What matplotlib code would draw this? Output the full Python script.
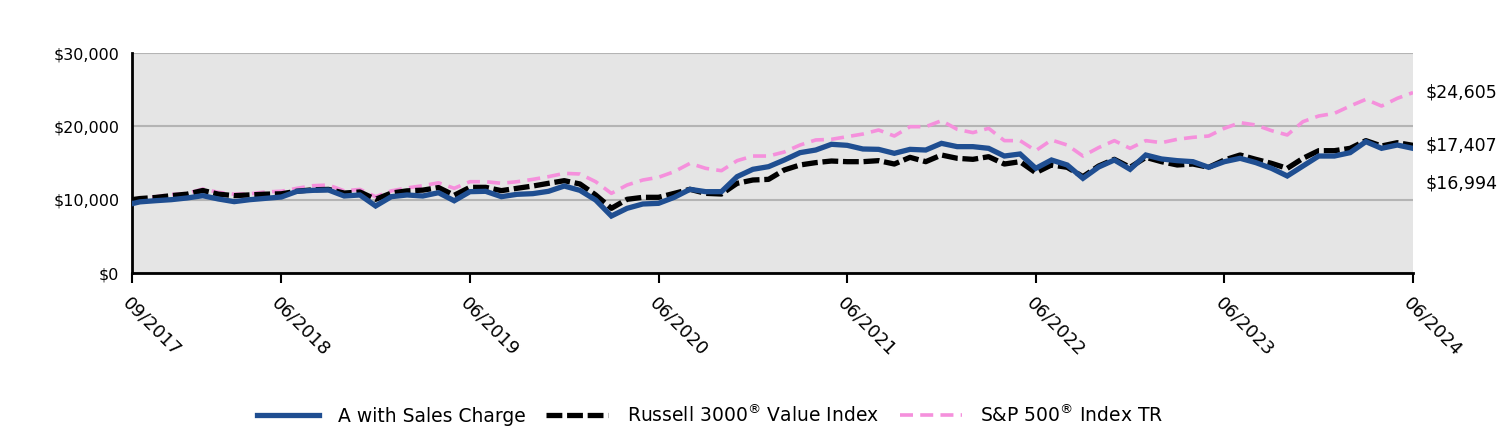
import matplotlib
matplotlib.use("Agg")
import matplotlib.pyplot as plt
from matplotlib.ticker import FuncFormatter

# growth of $10,000: first point is inception, then month-ends 09/2017 .. 06/2024
fund = [9450, 9700, 9860, 10000, 10230, 10540, 10090, 9730, 10000, 10180, 10360,
        11140, 11270, 11320, 10500, 10640, 9140, 10410, 10640, 10500, 10950, 9850,
        11090, 11140, 10410, 10730, 10820, 11140, 11860, 11270, 9950, 7770, 8820,
        9410, 9500, 10320, 11410, 11090, 11090, 13140, 14140, 14500, 15410, 16410,
        16770, 17550, 17410, 16910, 16860, 16320, 16860, 16770, 17680, 17230, 17230,
        17000, 15950, 16230, 14270, 15410, 14730, 12910, 14450, 15410, 14140, 16090,
        15550, 15320, 15180, 14410, 15180, 15640, 15050, 14270, 13230, 14590, 15950,
        15950, 16410, 17910, 17000, 17450, 16994]
russell = [10000, 10150, 10300, 10550, 10750, 11250, 10750, 10550, 10650, 10750, 10800,
           11150, 11350, 11400, 10900, 11050, 10050, 10900, 11200, 11300, 11650, 10600,
           11680, 11680, 11230, 11550, 11860, 12230, 12590, 12140, 10640, 8820, 10050,
           10320, 10320, 10860, 11410, 10860, 10770, 12230, 12680, 12770, 14050, 14730,
           15050, 15270, 15180, 15180, 15320, 14860, 15770, 15180, 16090, 15640, 15500,
           15860, 14860, 15180, 13680, 14730, 14410, 13140, 14590, 15500, 14410, 15770,
           15180, 14730, 14860, 14410, 15410, 16090, 15500, 14950, 14270, 15640, 16680,
           16680, 17000, 18050, 17320, 17770, 17407]
sp500 = [10000, 10200, 10400, 10700, 10850, 11450, 11000, 10750, 10800, 11050, 11150,
         11550, 11900, 12000, 11200, 11400, 10400, 11200, 11600, 11900, 12300, 11550,
         12450, 12450, 12230, 12450, 12770, 13140, 13590, 13500, 12450, 10860, 12000,
         12680, 13050, 13820, 14950, 14270, 13950, 15320, 15950, 15950, 16500, 17450,
         18140, 18230, 18590, 18950, 19500, 18680, 19950, 19950, 20770, 19590, 19140,
         19730, 18050, 18050, 16680, 18140, 17450, 15950, 17100, 18050, 17000, 18050,
         17770, 18230, 18500, 18680, 19730, 20500, 20180, 19410, 18820, 20640, 21410,
         21770, 22770, 23680, 22770, 23820, 24605]

tick_labels = ["09/2017", "06/2018", "06/2019", "06/2020", "06/2021",
               "06/2022", "06/2023", "06/2024"]
end_labels = ["$24,605", "$17,407", "$16,994"]

# x in months: inception at 0, month-end k at k + 0.5
x = [0] + [k + 0.5 for k in range(len(fund) - 1)]
tick_pos = [0] + [k + 0.5 for k in range(9, 82, 12)]

plt.rcParams["font.family"] = "DejaVu Sans"
fig = plt.figure(figsize=(15.12, 4.32), dpi=100)
ax = fig.add_axes([132 / 1512, 1 - 273 / 432, 1281 / 1512, 220 / 432])
ax.set_facecolor("#e5e5e5")

ax.plot(x, fund, color="#1f4e91", lw=3.8, solid_joinstyle="miter",
        label="A with Sales Charge", zorder=5)
ax.plot(x, russell, color="black", lw=3.8, dashes=(3, 0.9),
        label="Russell 3000$^{\\circledR}$ Value Index", zorder=4)
ax.plot(x, sp500, color="#f590dc", lw=2.6, dashes=(3.6, 2.0),
        label="S&P 500$^{\\circledR}$ Index TR", zorder=3)

ax.set_xlim(x[0], x[-1])
ax.set_ylim(0, 30000)
ax.set_yticks([0, 10000, 20000, 30000])
ax.yaxis.set_major_formatter(FuncFormatter(lambda v, p: f"${v:,.0f}"))
ax.grid(axis="y", color="#b4b4b4", lw=1.5)
ax.set_axisbelow(True)
ax.tick_params(axis="y", length=0, pad=9, labelsize=11.5)
ax.set_xticks(tick_pos)
ax.set_xticklabels(tick_labels, rotation=-45, ha="left", va="top",
                   rotation_mode="anchor", fontsize=13)
ax.tick_params(axis="x", length=7, width=1.5, pad=8)
for s in ["top", "right"]:
    ax.spines[s].set_visible(False)
for s in ["left", "bottom"]:
    ax.spines[s].set_linewidth(2)

# ending values to the right of the plot
offsets = [0, 0, -25]
for lab, series, dy in zip(end_labels, [sp500, russell, fund], offsets):
    ax.annotate(lab, xy=(x[-1], series[-1]), xytext=(9, dy),
                textcoords="offset points", va="center", ha="left",
                fontsize=12.5, annotation_clip=False)

fig.legend(loc="center", bbox_to_anchor=(0.47, 0.04), ncol=3, frameon=False,
           fontsize=13.5, handlelength=3.3, columnspacing=1.1, handletextpad=1.0)

fig.savefig("out.png", dpi=100)
